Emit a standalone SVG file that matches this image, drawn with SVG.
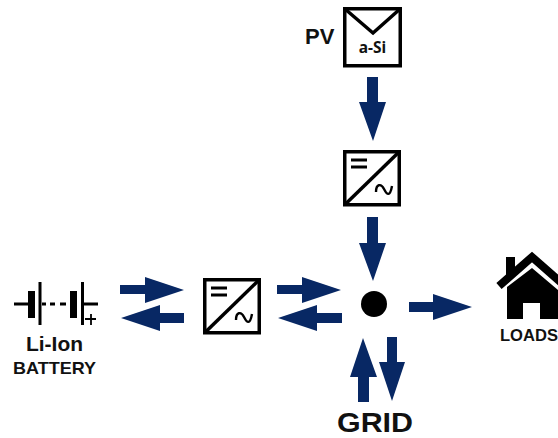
<svg xmlns="http://www.w3.org/2000/svg" width="558" height="438" viewBox="0 0 558 438">
<defs>
<style>
.f{fill:#082864}
.box{fill:#fff;stroke:#000;stroke-width:3.500}
.l{fill:none;stroke:#000;stroke-width:3.500}
.t{font-family:"Liberation Sans",Arial,sans-serif;font-weight:700;fill:#111}
</style>
<g id="inv">
<rect class="box" x="1.750" y="1.750" width="54.500" height="53"/>
<path class="l" d="M1.750 54.750L56.250 1.750"/>
<path d="M8 10h16M8 17h16" fill="none" stroke="#000" stroke-width="3"/>
<path d="M33 42C33 34 38 33 41 39S47 47 49 36" fill="none" stroke="#000" stroke-width="2.400"/>
</g>
</defs>
<rect width="558" height="438" fill="#fff"/>
<g id="connectors" class="f">
<polygon points="367,77 378,77 378,102 386,102 373,141 359,102 367,102"/>
<polygon points="367,217 378,217 378,243 386,243 373,281 359,243 367,243"/>
<polygon points="120,285 145,285 145,277 184,290 145,303 145,294 120,294"/>
<polygon points="184,313 160,313 160,305 121,318 160,331 160,323 184,323"/>
<polygon points="277,285 302,285 302,277 341,290 302,303 302,294 277,294"/>
<polygon points="342,313 317,313 317,305 278,318 317,331 317,323 342,323"/>
<polygon points="409,302 433,302 433,294 472,307 433,320 433,312 409,312"/>
<polygon points="358,402 369,402 369,377 377,377 363,338 350,377 358,377"/>
<polygon points="387,337 397,337 397,362 405,362 392,401 379,362 387,362"/>
</g>
<g id="pv">
<rect class="box" x="344.750" y="8.750" width="55.500" height="57"/>
<path class="l" d="M344.750 8.750L373 33L400.250 8.750"/>
<text x="372.500" y="53" font-size="15.500" text-anchor="middle" font-family="'Noto Sans',sans-serif" font-weight="700" fill="#111">a-Si</text>
<text class="t" x="305" y="44" font-size="22">PV</text>
</g>
<g id="inverter-top"><use href="#inv" x="343" y="150"/></g>
<g id="inverter-left"><use href="#inv" x="203" y="278"/></g>
<g id="battery">
<path d="M14 304H28M40 282V325M42 304H46M50 304H55M60 304H66M82.500 282V325M82.500 304H98" fill="none" stroke="#000" stroke-width="3"/>
<rect x="28" y="291" width="7" height="27"/>
<rect x="70" y="291" width="7" height="27"/>
<path d="M85 319H96M91 314V325" fill="none" stroke="#000" stroke-width="1.800"/>
<text class="t" x="26" y="351" font-size="20" textLength="57" lengthAdjust="spacingAndGlyphs">Li-Ion</text>
<text class="t" x="13" y="374" font-size="17" textLength="83" lengthAdjust="spacingAndGlyphs">BATTERY</text>
</g>
<g id="junction"><circle cx="374" cy="304" r="13"/></g>
<g id="loads">
<rect x="506" y="257" width="9" height="18"/>
<path d="M499 286L532 257L565 286" fill="none" stroke="#000" stroke-width="8"/>
<path d="M507 319V287L532 268L558 290V319H540V303H523V319Z"/>
<text class="t" x="500" y="341" font-size="16.500" textLength="58" lengthAdjust="spacingAndGlyphs">LOADS</text>
</g>
<g id="grid"><text class="t" x="375" y="432" font-size="28" text-anchor="middle" textLength="76" lengthAdjust="spacingAndGlyphs">GRID</text></g>
</svg>
